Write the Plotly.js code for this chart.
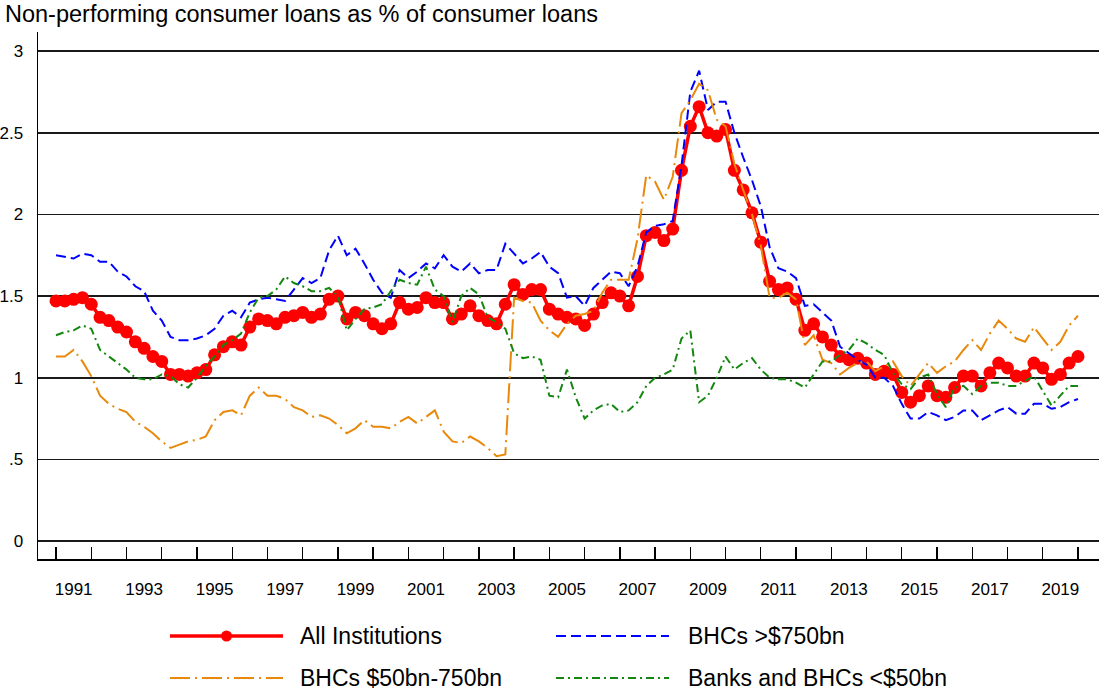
<html><head>
<script src="https://cdn.plot.ly/plotly-3.0.1.min.js"></script>
<style>
body { margin: 0; background: #fff; }
</style>
</head>
<body>
<div id="chart" style="width:1099px;height:694px"></div>
<script>
// quarterly observations, first one plotted at the start of 1991
const startYear = 1991;

const allInst = [
  1.47,1.47,1.48,1.49,1.45,1.37,1.35,1.31,1.28,1.22,
  1.18,1.13,1.10,1.02,1.02,1.01,1.03,1.05,1.14,1.19,
  1.22,1.20,1.31,1.36,1.35,1.33,1.37,1.38,1.40,1.37,
  1.39,1.48,1.50,1.36,1.40,1.38,1.33,1.30,1.33,1.46,
  1.42,1.43,1.49,1.46,1.46,1.36,1.39,1.44,1.38,1.35,
  1.33,1.45,1.57,1.51,1.54,1.54,1.42,1.39,1.37,1.36,
  1.32,1.39,1.46,1.52,1.50,1.44,1.62,1.87,1.89,1.84,
  1.91,2.27,2.54,2.66,2.50,2.48,2.52,2.27,2.15,2.01,
  1.83,1.59,1.54,1.55,1.48,1.29,1.33,1.25,1.20,1.13,
  1.11,1.12,1.09,1.02,1.04,1.02,0.91,0.85,0.89,0.95,
  0.89,0.88,0.94,1.01,1.01,0.95,1.03,1.09,1.06,1.01,
  1.01,1.09,1.06,0.99,1.02,1.09,1.13
];

const bhcLarge = [
  1.75,1.74,1.73,1.76,1.75,1.71,1.71,1.65,1.62,1.56,
  1.53,1.41,1.35,1.25,1.23,1.23,1.24,1.26,1.30,1.38,
  1.41,1.37,1.46,1.48,1.49,1.48,1.47,1.54,1.61,1.58,
  1.61,1.78,1.87,1.75,1.79,1.70,1.60,1.52,1.49,1.66,
  1.61,1.65,1.70,1.67,1.75,1.68,1.65,1.70,1.64,1.66,
  1.66,1.82,1.76,1.70,1.73,1.77,1.68,1.64,1.49,1.50,
  1.44,1.55,1.60,1.65,1.64,1.56,1.68,1.89,1.93,1.94,
  1.96,2.30,2.75,2.88,2.64,2.69,2.69,2.50,2.35,2.21,
  2.05,1.80,1.67,1.65,1.61,1.44,1.45,1.40,1.35,1.19,
  1.15,1.11,1.08,1.00,1.00,0.95,0.84,0.75,0.75,0.79,
  0.77,0.74,0.76,0.80,0.80,0.74,0.77,0.80,0.82,0.78,
  0.78,0.84,0.84,0.81,0.82,0.85,0.87
];

const bhcMid = [
  1.13,1.13,1.17,1.10,1.01,0.89,0.84,0.81,0.79,0.73,
  0.70,0.66,0.61,0.57,0.59,0.61,0.62,0.64,0.74,0.79,
  0.80,0.77,0.89,0.94,0.89,0.89,0.87,0.82,0.80,0.76,
  0.77,0.75,0.71,0.66,0.69,0.74,0.70,0.70,0.69,0.73,
  0.76,0.72,0.76,0.80,0.67,0.61,0.60,0.64,0.61,0.57,
  0.52,0.53,1.49,1.47,1.46,1.35,1.29,1.25,1.33,1.38,
  1.39,1.41,1.52,1.60,1.60,1.60,1.85,2.24,2.20,2.09,
  2.23,2.62,2.70,2.80,2.76,2.58,2.54,2.31,2.15,2.00,
  1.81,1.49,1.49,1.52,1.48,1.20,1.26,1.11,1.09,1.02,
  1.06,1.09,1.10,1.04,1.07,1.10,1.01,0.95,1.02,1.09,
  1.03,1.07,1.10,1.17,1.23,1.17,1.27,1.35,1.30,1.24,
  1.22,1.31,1.24,1.17,1.22,1.32,1.38
];

const banksSmall = [
  1.26,1.28,1.29,1.32,1.30,1.17,1.13,1.09,1.05,1.00,
  0.99,0.99,1.02,1.01,0.96,0.94,1.00,1.07,1.13,1.20,
  1.23,1.27,1.40,1.49,1.50,1.54,1.62,1.58,1.56,1.53,
  1.53,1.55,1.50,1.29,1.36,1.42,1.43,1.45,1.53,1.60,
  1.58,1.57,1.68,1.54,1.50,1.34,1.50,1.55,1.51,1.37,
  1.34,1.30,1.15,1.12,1.13,1.11,0.89,0.88,1.05,0.88,
  0.75,0.80,0.83,0.84,0.79,0.80,0.85,0.95,1.00,1.02,
  1.05,1.24,1.29,0.85,0.89,1.00,1.13,1.05,1.09,1.12,
  1.05,1.00,0.99,0.99,0.97,0.94,1.02,1.10,1.10,1.14,
  1.17,1.24,1.21,1.17,1.14,1.03,0.96,0.93,1.00,1.02,
  0.90,0.82,0.94,0.95,0.90,0.95,0.97,0.97,0.95,0.95,
  0.98,1.01,0.92,0.83,0.89,0.95,0.95
];

const seriesNames = ['All Institutions', 'BHCs >$750bn', 'BHCs $50bn-750bn', 'Banks and BHCs <$50bn'];
const labelYears = [1991, 1993, 1995, 1997, 1999, 2001, 2003, 2005, 2007, 2009, 2011, 2013, 2015, 2017, 2019];
const yTicks = [0, 0.5, 1, 1.5, 2, 2.5, 3];
const yTickText = ['0', '.5', '1', '1.5', '2', '2.5', '3'];

const quarters = allInst.map((_, i) => startYear + i / 4);
const yearTicks = Array.from({length: 30}, (_, i) => startYear + i);

// styles, in legend order
const styles = [
  {color: '#ff0000', dash: 'solid', width: 3.5, markers: true},
  {color: '#0000ff', dash: '10px,5px', width: 2},
  {color: '#e8890c', dash: '20px,5px,2px,5px', width: 2},
  {color: '#13870f', dash: '8px,4px,2px,4px', width: 2}
];
const values = [allInst, bhcLarge, bhcMid, banksSmall];

const traces = values.map((v, k) => ({
  x: quarters,
  y: v,
  name: seriesNames[k],
  type: 'scatter',
  mode: styles[k].markers ? 'lines+markers' : 'lines',
  line: {color: styles[k].color, width: styles[k].width, dash: styles[k].dash},
  marker: {color: styles[k].color, size: 13},
  hoverinfo: 'skip'
}));

// legend drawn by hand so the sample lines are long like the original
const plotL = 38, plotW = 1061, plotB = 559, plotH = 527;
const px2x = px => (px - plotL) / plotW;
const py2y = py => (plotB - py) / plotH;
const legCols = [{x0: 170, x1: 283, tx: 298}, {x0: 556, x1: 669, tx: 686}];
const legRows = [636, 678];
const legPos = [[0, 0], [1, 0], [0, 1], [1, 1]];

const shapes = [];
const annotations = [];
legPos.forEach(([c, r], k) => {
  const col = legCols[c], y = py2y(legRows[r]);
  shapes.push({
    type: 'line', xref: 'paper', yref: 'paper',
    x0: px2x(col.x0), x1: px2x(col.x1), y0: y, y1: y,
    line: {color: styles[k].color, width: styles[k].width, dash: styles[k].dash}
  });
  if (styles[k].markers) {
    shapes.push({
      type: 'circle', xref: 'paper', yref: 'paper',
      xsizemode: 'pixel', ysizemode: 'pixel',
      xanchor: px2x((col.x0 + col.x1) / 2), yanchor: y,
      x0: -5.5, x1: 5.5, y0: -5.5, y1: 5.5,
      fillcolor: styles[k].color, line: {width: 0}
    });
  }
  annotations.push({
    xref: 'paper', yref: 'paper', x: px2x(col.tx), y: y,
    xanchor: 'left', yanchor: 'middle', showarrow: false,
    text: seriesNames[k], font: {size: 23}
  });
});

const layout = {
  width: 1099,
  height: 694,
  margin: {l: plotL, r: 0, t: 32, b: 135},
  paper_bgcolor: '#fff',
  plot_bgcolor: '#fff',
  font: {family: 'Arial, "Liberation Sans", sans-serif', color: '#000'},
  showlegend: false,
  title: {
    text: 'Non-performing consumer loans as % of consumer loans',
    xref: 'container', x: 5 / 1099, xanchor: 'left',
    yref: 'container', y: 1 - 14 / 694, yanchor: 'middle',
    font: {size: 23.5}
  },
  xaxis: {
    range: [1990.489, 2020.597],
    showgrid: false, zeroline: false,
    showline: true, linecolor: '#000', linewidth: 1.5,
    tickvals: labelYears.map(y => y + 0.5),
    ticktext: labelYears.map(String),
    ticks: '', tickfont: {size: 17}, ticklabelstandoff: 14,
    minor: {tickvals: yearTicks, ticks: 'inside', ticklen: 12, tickwidth: 1.4, tickcolor: '#000', showgrid: false}
  },
  yaxis: {
    range: [-0.11, 3.117],
    tickvals: yTicks, ticktext: yTickText,
    ticks: '', tickfont: {size: 17}, ticklabelstandoff: 10,
    showgrid: true, gridcolor: '#1a1a1a', gridwidth: 1.6,
    zeroline: false,
    showline: true, linecolor: '#000', linewidth: 1.5
  },
  shapes: shapes,
  annotations: annotations
};

Plotly.newPlot('chart', traces, layout, {displayModeBar: false, staticPlot: true});
</script>
</body></html>
